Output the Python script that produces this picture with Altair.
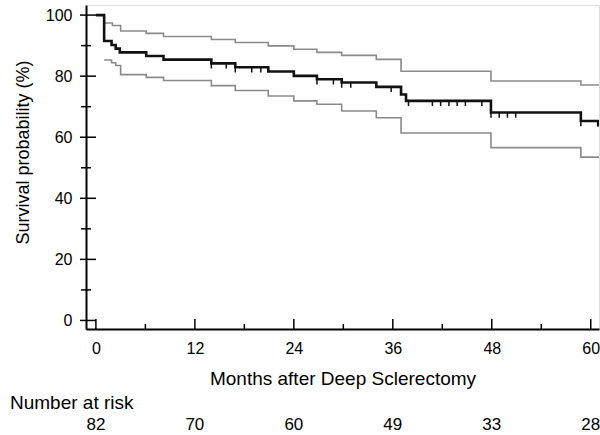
import altair as alt
import pandas as pd
import numpy as np

# Kaplan-Meier estimate (step curve)
main_months = [0, 1.0, 1.9, 2.4, 2.9, 6.1, 8.2, 14.0, 16.9, 20.9, 24.0, 26.8, 29.8, 34.0, 37.0, 37.6, 47.9, 58.8, 60.9, 61.0]
main_surv = [100, 91.5, 90.2, 89.0, 87.8, 86.6, 85.4, 84.2, 82.9, 81.5, 80.1, 79.0, 77.9, 76.5, 74.0, 71.9, 68.1, 65.3, 63.9, 63.9]

# 95% confidence band
upper_months = [1.0, 2.0, 3.0, 6.1, 8.2, 14.0, 16.9, 20.9, 24.0, 26.8, 29.8, 34.0, 37.0, 47.9, 58.8, 61.0]
upper_surv = [97.4, 96.6, 94.8, 94.0, 93.0, 92.0, 91.0, 89.9, 88.8, 87.8, 86.8, 85.5, 81.6, 78.4, 77.1, 77.1]
lower_months = [1.0, 1.9, 2.4, 3.0, 6.1, 8.2, 14.0, 16.9, 20.9, 24.0, 26.8, 29.8, 34.0, 37.0, 47.9, 58.8, 61.0]
lower_surv = [85.3, 84.4, 83.5, 80.5, 79.6, 78.6, 76.9, 75.3, 73.5, 71.9, 70.8, 68.6, 66.4, 61.4, 56.6, 53.5, 53.5]

# censored observations
censor_months = [14.0, 15.8, 16.9, 18.9, 20.0, 26.8, 28.8, 29.8, 30.9, 35.8, 37.9, 40.8, 41.8,
                 42.8, 43.8, 44.8, 46.8, 47.9, 48.9, 49.9, 50.9, 58.8]

# number at risk
risk_months = [0, 12, 24, 36, 48, 60]
risk_counts = [82, 70, 60, 49, 33, 28]

x_major = [0, 12, 24, 36, 48, 60]
x_minor = [6, 18, 30, 42, 54]
y_major = [0, 20, 40, 60, 80, 100]
y_minor = [10, 30, 50, 70, 90]

FONT = "Liberation Sans"

main_df = pd.DataFrame({"t": main_months, "s": main_surv})
up_df = pd.DataFrame({"t": upper_months, "s": upper_surv})
lo_df = pd.DataFrame({"t": lower_months, "s": lower_surv})
idx = np.searchsorted(np.array(main_months), np.array(censor_months), side="right") - 1
cens_df = pd.DataFrame({"t": censor_months, "s": np.array(main_surv)[idx]})
risk_df = pd.DataFrame({"t": risk_months, "n": [str(v) for v in risk_counts]})

xs = alt.Scale(domain=[-1.2, 61], nice=False, zero=False)
ys = alt.Scale(domain=[-2.8, 103.3], nice=False, zero=False)

x_axis = alt.Axis(values=x_major, ticks=False, grid=False, labelFontSize=16, labelPadding=11,
                  labelColor="black", labelFont=FONT, domainColor="black", domainWidth=2,
                  title="Months after Deep Sclerectomy", titleFontSize=19, titleFontWeight="normal",
                  titleFont=FONT, titleColor="black", titleY=55, titleBaseline="alphabetic")
y_axis = alt.Axis(values=y_major, ticks=False, grid=False, labelFontSize=16, labelPadding=14,
                  labelColor="black", labelFont=FONT, domainColor="black", domainWidth=2,
                  title="Survival probability (%)", titleFontSize=18, titleFontWeight="normal",
                  titleFont=FONT, titleColor="black", titleX=-54, titleY=147, titleBaseline="bottom")

X = alt.X("t:Q", scale=xs, axis=x_axis)
Y = alt.Y("s:Q", scale=ys, axis=y_axis)

upper = alt.Chart(up_df).mark_line(interpolate="step-after", color="#8a8a8a", strokeWidth=1.6, clip=True).encode(x=X, y=Y)
lower = alt.Chart(lo_df).mark_line(interpolate="step-after", color="#8a8a8a", strokeWidth=1.6, clip=True).encode(x=X, y=Y)
main = alt.Chart(main_df).mark_line(interpolate="step-after", color="#111111", strokeWidth=2.6, clip=True).encode(x=X, y=Y)
cens = alt.Chart(cens_df).transform_calculate(s2="datum.s - 1.7").mark_rule(color="#111111", strokeWidth=1.5).encode(
    x=X, y=Y, y2="s2:Q")

ymaj = alt.Chart(pd.DataFrame({"s": y_major})).mark_rule(color="black", strokeWidth=1.5).encode(
    y=Y, x=alt.value(-6), x2=alt.value(10))
ymin = alt.Chart(pd.DataFrame({"s": y_minor})).mark_rule(color="black", strokeWidth=1.5).encode(
    y=Y, x=alt.value(-5), x2=alt.value(5))
xmaj = alt.Chart(pd.DataFrame({"t": x_major})).mark_rule(color="black", strokeWidth=1.5).encode(
    x=X, y=alt.value(324), y2=alt.value(314))
xmin = alt.Chart(pd.DataFrame({"t": x_minor})).mark_rule(color="black", strokeWidth=1.5).encode(
    x=X, y=alt.value(324), y2=alt.value(319))

risk = alt.Chart(risk_df).mark_text(baseline="alphabetic", align="center", fontSize=17, font=FONT, color="black").encode(
    x=X, y=alt.value(425), text="n:N")
risk_label = alt.Chart(pd.DataFrame({"label": ["Number at risk"]})).mark_text(
    baseline="alphabetic", align="left", fontSize=19, font=FONT, color="black").encode(
    x=alt.value(-76), y=alt.value(404), text="label:N")

chart = alt.layer(upper, lower, main, cens, ymaj, ymin, xmaj, xmin, risk, risk_label).properties(
    width=513, height=324,
    padding={"left": 86, "top": 5, "right": 1, "bottom": 106},
    autosize=alt.AutoSizeParams(type="none"),
).configure_view(stroke="black", strokeWidth=2).configure(background="white")

chart.save("out.html", embed_options={"renderer": "svg", "actions": False})
